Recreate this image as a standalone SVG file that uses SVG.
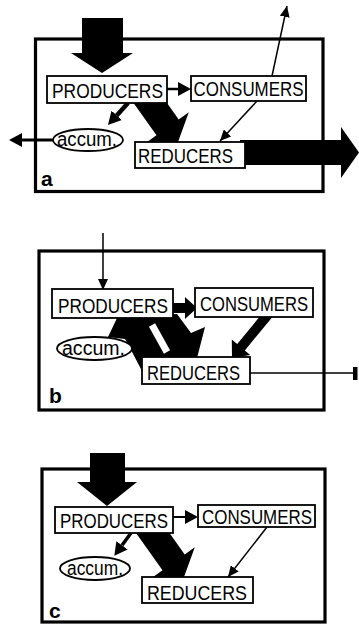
<svg xmlns="http://www.w3.org/2000/svg" width="359" height="625" viewBox="0 0 359 625">
<style>
.panel{fill:none;stroke:#000;stroke-width:3.2}
.box{fill:#fff;stroke:#000;stroke-width:1.8}
.lbl{font-family:"Liberation Sans",Arial,sans-serif;font-size:21px;fill:#000}
.acc{font-size:20px}
.tag{font-family:"Liberation Sans",Arial,sans-serif;font-weight:bold;font-size:21px;fill:#000}
.thin{stroke:#000;stroke-width:1.5;fill:none}
.mid{stroke:#000;fill:none}
.blk{fill:#000;stroke:none}
</style>
<defs>
<marker id="h" markerUnits="userSpaceOnUse" markerWidth="11" markerHeight="10" refX="11" refY="5" orient="auto"><path d="M0,0 L11,5 L0,10 z" fill="#000"/></marker>
<marker id="hb" markerUnits="userSpaceOnUse" markerWidth="13" markerHeight="14" refX="0" refY="7" orient="auto"><path d="M0,0 L13,7 L0,14 z" fill="#000"/></marker>
</defs>

<g id="panels">
<rect class="panel" x="35.5" y="39" width="287.5" height="152.5"/>
<rect class="panel" x="39" y="251" width="285" height="159"/>
<rect class="panel" x="42" y="469" width="283" height="153"/>
</g>

<g id="connectors">
<!-- panel a -->
<polygon class="blk" points="82,18 123,18 123,53 133,53 102,73 71,53 82,53"/>
<polygon class="blk" points="149.7,78.6 178.7,119.4 188.8,112.2 178,142 146.4,142.4 156.5,135.2 127.5,94.4"/>
<polygon class="blk" points="240,140 341,140 341,127 359,152.5 341,178 341,165 240,165"/>
<line class="mid" stroke-width="2.5" x1="167" y1="89" x2="178" y2="89" marker-end="url(#hb)"/>
<line class="mid" stroke-width="4.5" x1="128" y1="103" x2="116.7" y2="115.4" marker-end="url(#hb)"/>
<line class="mid" stroke-width="3" x1="53" y1="140" x2="22" y2="140" marker-end="url(#hb)"/>
<line class="thin" x1="257" y1="101" x2="220" y2="141" marker-end="url(#h)"/>
<line class="thin" x1="272" y1="76" x2="287" y2="6" marker-end="url(#h)"/>
<!-- panel b -->
<line class="thin" x1="103" y1="233" x2="103" y2="290" marker-end="url(#h)"/>
<polygon class="blk" points="118,316 108,337 125,339 131,350 142,371 150,371 196,362 205,327 191,333 177,314"/>
<line stroke="#fff" stroke-width="7" x1="152" y1="325" x2="167" y2="352"/>
<polygon class="blk" points="172,303 185,303 185,297 197,308 185,319 185,313 172,313"/>
<polygon class="blk" points="266.2,308.8 237.2,344 231.8,339.5 232,358 250.2,354.9 244.8,350.4 273.9,315.2"/>
<line class="thin" x1="250" y1="373" x2="354" y2="373"/>
<rect class="blk" x="353" y="367" width="4.5" height="13"/>
<!-- panel c -->
<polygon class="blk" points="90,453 125,453 125,482 137,482 107,506 77,482 90,482"/>
<polygon class="blk" points="155.7,513.6 184.7,554.4 194.8,547.2 184,577 152.4,577.4 162.5,570.2 133.5,529.4"/>
<line class="mid" stroke-width="2" x1="173" y1="517" x2="185" y2="517" marker-end="url(#hb)"/>
<line class="mid" stroke-width="3.5" x1="131" y1="533" x2="122" y2="545.3" marker-end="url(#hb)"/>
<line class="thin" x1="267" y1="527" x2="228" y2="577" marker-end="url(#h)"/>
</g>

<g id="a-producers"><rect class="box" x="47" y="76" width="120" height="27"/><text class="lbl" x="52" y="97.5" textLength="111" lengthAdjust="spacingAndGlyphs">PRODUCERS</text></g>
<g id="a-consumers"><rect class="box" x="191" y="76" width="115" height="25"/><text class="lbl" x="193.5" y="96" textLength="110" lengthAdjust="spacingAndGlyphs">CONSUMERS</text></g>
<g id="a-reducers"><rect class="box" x="135" y="142" width="110" height="26"/><text class="lbl" x="138" y="163" textLength="95" lengthAdjust="spacingAndGlyphs">REDUCERS</text></g>
<g id="a-accum"><ellipse class="box" cx="88" cy="140" rx="35" ry="11"/><text class="lbl acc" x="57" y="145.5" textLength="60" lengthAdjust="spacingAndGlyphs">accum.</text></g>
<text class="tag" x="41" y="186">a</text>

<g id="b-producers"><rect class="box" x="52" y="289" width="121" height="29"/><text class="lbl" x="58" y="312.5" textLength="110" lengthAdjust="spacingAndGlyphs">PRODUCERS</text></g>
<g id="b-consumers"><rect class="box" x="195" y="288" width="118" height="29"/><text class="lbl" x="200" y="311" textLength="108" lengthAdjust="spacingAndGlyphs">CONSUMERS</text></g>
<g id="b-reducers"><rect class="box" x="142" y="357" width="108" height="27"/><text class="lbl" x="147" y="379.5" textLength="93" lengthAdjust="spacingAndGlyphs">REDUCERS</text></g>
<g id="b-accum"><ellipse class="box" cx="94.5" cy="348.5" rx="37.5" ry="11.5"/><text class="lbl acc" x="62" y="355" textLength="63" lengthAdjust="spacingAndGlyphs">accum.</text></g>
<text class="tag" x="49" y="403">b</text>

<g id="c-producers"><rect class="box" x="55" y="507" width="118" height="26"/><text class="lbl" x="60" y="528" textLength="108" lengthAdjust="spacingAndGlyphs">PRODUCERS</text></g>
<g id="c-consumers"><rect class="box" x="198" y="505" width="117" height="22"/><text class="lbl" x="202" y="523.5" textLength="110" lengthAdjust="spacingAndGlyphs">CONSUMERS</text></g>
<g id="c-reducers"><rect class="box" x="142" y="577" width="111" height="26"/><text class="lbl" x="147" y="599.5" textLength="100" lengthAdjust="spacingAndGlyphs">REDUCERS</text></g>
<g id="c-accum"><ellipse class="box" cx="95" cy="568.5" rx="35" ry="11.5"/><text class="lbl acc" x="67" y="575" textLength="56" lengthAdjust="spacingAndGlyphs">accum.</text></g>
<text class="tag" x="49" y="618">c</text>
</svg>
